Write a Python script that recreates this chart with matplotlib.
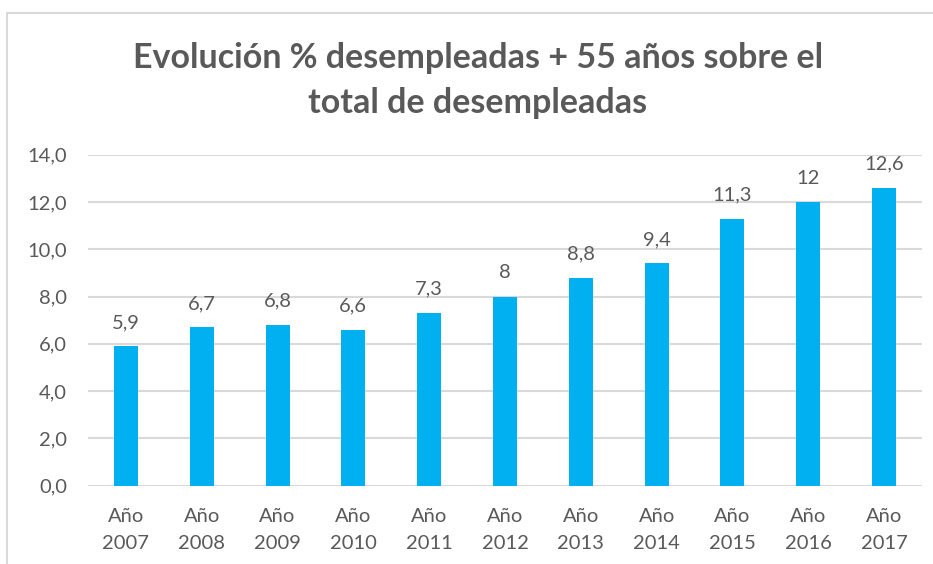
import matplotlib.pyplot as plt
from matplotlib.patches import Rectangle
from matplotlib.ticker import FuncFormatter

years = ['2007', '2008', '2009', '2010', '2011', '2012', '2013', '2014', '2015', '2016', '2017']
values = [5.9, 6.7, 6.8, 6.6, 7.3, 8, 8.8, 9.4, 11.3, 12, 12.6]
tick_labels = ['Año\n' + y for y in years]

title = 'Evolución % desempleadas + 55 años sobre el\ntotal de desempleadas'

text_col = '#595959'
bar_col = '#00B0F0'
grid_col = '#D9D9D9'

plt.rcParams['font.family'] = ['Lato', 'DejaVu Sans']

fig = plt.figure(figsize=(9.33, 5.64), dpi=100)
ax = fig.add_axes([0.0943, 0.1388, 0.8939, 0.5869])

# chart border
fig.patches.append(Rectangle((0.0075, -0.05), 1.05, 1.027, transform=fig.transFigure,
                             fill=False, edgecolor=grid_col, linewidth=1.5))

x = range(len(values))
bars = ax.bar(x, values, width=0.316, color=bar_col, zorder=3)

for b, v in zip(bars, values):
    ax.annotate(f'{v:g}'.replace('.', ','), (b.get_x() + b.get_width() / 2, v),
                xytext=(0, 11), textcoords='offset points', ha='center', va='bottom',
                fontsize=14.5, color=text_col)

ax.set_xlim(-0.5, len(values) - 0.5)
ax.set_ylim(0, 14)
ax.set_yticks(range(0, 15, 2))
ax.yaxis.set_major_formatter(FuncFormatter(lambda v, p: f'{v:.1f}'.replace('.', ',')))
ax.set_xticks(list(x))
ax.set_xticklabels(tick_labels, linespacing=1.7)
ax.tick_params(axis='both', length=0, labelsize=14.5, labelcolor=text_col)
ax.tick_params(axis='x', pad=16)
ax.tick_params(axis='y', pad=15)
for lbl in ax.get_yticklabels():
    lbl.set_horizontalalignment('right')

ax.grid(axis='y', color=grid_col, linewidth=1.5, zorder=0)
for s in ax.spines.values():
    s.set_visible(False)

fig.text(0.512, 0.858, title, ha='center', va='center', fontsize=24.5, fontweight='bold',
         color=text_col, linespacing=1.5)

fig.savefig('out.png', dpi=100)
